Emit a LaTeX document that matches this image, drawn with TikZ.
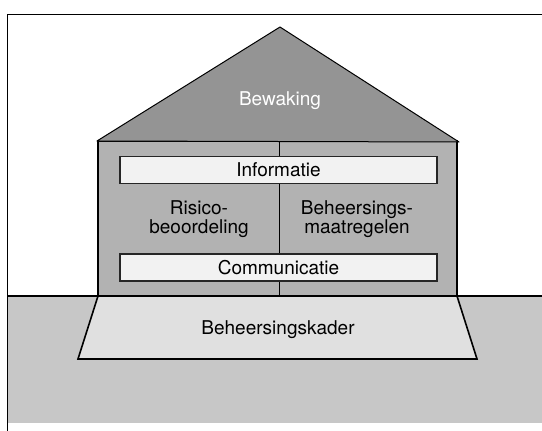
\documentclass[tikz,border=0pt]{standalone}
\usepackage{fontspec}
\setmainfont{TeX Gyre Heros}
\begin{document}
\begin{tikzpicture}[x=1pt,y=-1pt,
  every node/.style={font=\fontsize{19}{19}\selectfont, inner sep=0pt},
  band/.style={draw=black!85, line width=1.4pt, fill=black!5,
    minimum width=317pt, minimum height=27pt},
  label/.style={align=center, text=black}]
\useasboundingbox (0,0) rectangle (542,431);
% ground
\fill[black!22] (7,296) rectangle (542,423);
% outer frame
\draw[line width=1pt] (7,431) -- (7,14) -- (542,14);
% foundation
\draw[fill=black!12, line width=1.6pt, line join=miter]
  (98,296) -- (457,296) -- (477,359) -- (78,359) -- cycle;
% walls
\draw[fill=black!30, line width=1.8pt] (98,296) -- (98,141) -- (457,141) -- (457,296);
% roof
\draw[fill=black!42, line width=1pt, line join=round]
  (97,141) -- (280,27) -- (459,142) -- cycle;
% middle divider
\draw[line width=1pt] (279,141) -- (279,296);
% ground line
\draw[line width=2.2pt] (7,296) -- (542,296);
% texts
\node[text=white] (bewaking) at (280,101) {Bewaking};
\node[band] (info) at (278.5,170) {Informatie};
\node[band] (comm) at (278.5,267.5) {Communicatie};
\node[label] (risico) at (199,219) {Risico-\\beoordeling};
\node[label] (maatr) at (357,219) {Beheersings-\\maatregelen};
\node[label] (kader) at (278,330) {Beheersingskader};
\end{tikzpicture}
\end{document}
